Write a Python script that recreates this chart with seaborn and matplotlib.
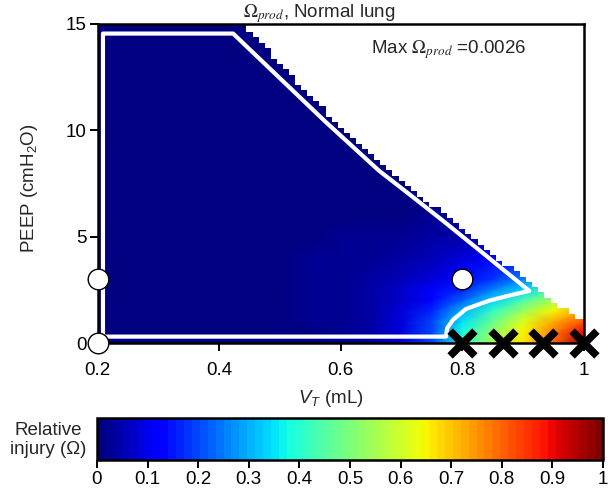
import numpy as np
import matplotlib
matplotlib.use("Agg")
import matplotlib.pyplot as plt
from matplotlib.colors import ListedColormap
import seaborn as sns

vt_grid = [0.2, 0.3, 0.4, 0.5, 0.55, 0.6, 0.65, 0.7, 0.75, 0.8, 0.85, 0.9, 0.95, 1.0]
peep_grid = [0, 0.5, 1, 1.5, 2, 2.5, 3, 4, 5, 6, 8, 10, 15]

# relative injury (one row per PEEP value, columns follow vt_grid)
injury = [
    [0, 0, 0.004, 0.008, 0.012, 0.016, 0.03, 0.09, 0.2, 0.4, 0.55, 0.66, 0.8, 1.0],
    [0, 0, 0.004, 0.009, 0.014, 0.019, 0.034, 0.09, 0.2, 0.38, 0.53, 0.65, 0.78, 0.9],
    [0, 0.001, 0.005, 0.011, 0.016, 0.022, 0.038, 0.09, 0.19, 0.35, 0.48, 0.61, 0.73, 0.82],
    [0, 0.001, 0.006, 0.012, 0.018, 0.025, 0.04, 0.085, 0.17, 0.3, 0.42, 0.54, 0.65, 0.74],
    [0, 0.001, 0.006, 0.013, 0.019, 0.026, 0.04, 0.075, 0.14, 0.23, 0.33, 0.45, 0.56, 0.65],
    [0, 0.001, 0.006, 0.014, 0.02, 0.027, 0.038, 0.065, 0.11, 0.17, 0.25, 0.34, 0.46, 0.55],
    [0, 0.001, 0.006, 0.014, 0.02, 0.026, 0.036, 0.055, 0.085, 0.125, 0.18, 0.26, 0.34, 0.42],
    [0, 0.001, 0.005, 0.012, 0.017, 0.022, 0.029, 0.04, 0.055, 0.08, 0.11, 0.15, 0.2, 0.25],
    [0, 0.001, 0.004, 0.008, 0.012, 0.016, 0.02, 0.026, 0.033, 0.042, 0.055, 0.07, 0.09, 0.11],
    [0, 0, 0.002, 0.005, 0.007, 0.009, 0.012, 0.015, 0.018, 0.022, 0.028, 0.034, 0.04, 0.045],
    [0, 0, 0, 0.001, 0.002, 0.003, 0.004, 0.005, 0.006, 0.008, 0.01, 0.012, 0.015, 0.018],
    [0, 0, 0, 0, 0, 0.001, 0.001, 0.002, 0.002, 0.003, 0.004, 0.005, 0.006, 0.007],
    [0, 0, 0, 0, 0, 0, 0, 0, 0, 0, 0, 0, 0, 0],
]

# upper limit of feasible VT at each PEEP (staircase edge)
peep_lim = [0, 1.0, 1.2, 1.7, 2.6, 4.2, 5.75, 6.9, 8.1, 10.4, 15]
vt_lim = [1.05, 1.0, 0.985, 0.96, 0.92, 0.85, 0.783, 0.732, 0.678, 0.59, 0.44]

# model grid step used for the staircase
vt_step = 0.01
peep_step = 0.25

# white outline of the protective region
safe_vt = [0.209, 0.773, 0.775, 0.785, 0.806, 0.845, 0.88, 0.91, 0.835, 0.768,
           0.717, 0.663, 0.575, 0.423, 0.209, 0.209]
safe_peep = [0.3, 0.3, 0.7, 1.1, 1.6, 2.0, 2.25, 2.45, 4.2, 5.75,
             6.9, 8.1, 10.4, 14.55, 14.55, 0.3]

# marked settings
circle_vt = [0.2, 0.2, 0.8]
circle_peep = [0, 3, 3]
cross_vt = [0.8, 0.867, 0.933, 1.0]
cross_peep = [0, 0, 0, 0]

x_ticks = [0.2, 0.4, 0.6, 0.8, 1.0]
x_ticklabels = ["0.2", "0.4", "0.6", "0.8", "1"]
y_ticks = [0, 5, 10, 15]
cb_ticks = [0, 0.1, 0.2, 0.3, 0.4, 0.5, 0.6, 0.7, 0.8, 0.9, 1.0]
cb_ticklabels = ["0", "0.1", "0.2", "0.3", "0.4", "0.5", "0.6", "0.7", "0.8", "0.9", "1"]

sns.set_theme(style="ticks")
plt.rcParams["font.family"] = ["Liberation Sans", "DejaVu Sans"]
plt.rcParams["mathtext.fontset"] = "custom"
plt.rcParams["mathtext.rm"] = "Liberation Sans"
plt.rcParams["mathtext.it"] = "Liberation Sans:italic"
plt.rcParams["mathtext.bf"] = "Liberation Sans:bold"
fs = 13.5

jet = matplotlib.colormaps["jet"].resampled(64)

fig = plt.figure(figsize=(6.12, 4.9), dpi=100)
ax = fig.add_axes([97.5 / 612, 1 - 343 / 490, 486.5 / 612, 319 / 490])
ax.set_facecolor(jet(0))

field = ax.pcolormesh(vt_grid, peep_grid, np.array(injury), shading="gouraud",
                      cmap=jet, vmin=0, vmax=1, antialiased=False, zorder=1)

# blank out the infeasible cells
vt_cells = np.arange(0.2, 1.0 + vt_step / 2, vt_step)
peep_cells = np.arange(0, 15 + peep_step / 2, peep_step)
edge = np.interp(peep_cells, peep_lim, vt_lim)
outside = vt_cells[None, :] > edge[:, None] + 1e-9
blank = np.ma.masked_where(~outside, np.ones(outside.shape))
ax.pcolormesh(vt_cells, peep_cells, blank, shading="nearest",
              cmap=ListedColormap(["white"]), edgecolors="none",
              antialiased=False, zorder=2)

sns.lineplot(x=safe_vt, y=safe_peep, sort=False, estimator=None, color="white",
             linewidth=3, ax=ax, zorder=3)

sns.scatterplot(x=circle_vt, y=circle_peep, s=220, color="white", edgecolor="black",
                linewidth=1, ax=ax, zorder=5, clip_on=False)
sns.scatterplot(x=cross_vt, y=cross_peep, marker="x", s=320, color="black",
                linewidth=5.5, ax=ax, zorder=5, clip_on=False)

ax.set_xlim(0.2, 1.0)
ax.set_ylim(0, 15)
ax.set_xticks(x_ticks)
ax.set_xticklabels(x_ticklabels)
ax.set_yticks(y_ticks)
ax.tick_params(direction="out", length=6, width=1.4, labelsize=fs, colors="black")
ax.tick_params(axis="x", pad=8)
ax.tick_params(axis="y", pad=2)
for side in ["left", "right", "top", "bottom"]:
    ax.spines[side].set_visible(True)
    ax.spines[side].set_linewidth(1.8)
    ax.spines[side].set_color("black")
    ax.spines[side].set_zorder(4)

ax.set_xlabel(r"$V_T$ (mL)", fontsize=fs, va="center")
ax.xaxis.set_label_coords((331 - 97.5) / 486.5, (343 - 398) / 319)
ax.set_ylabel(r"PEEP (cmH$_2$O)", fontsize=fs, va="center")
ax.yaxis.set_label_coords((30 - 97.5) / 486.5, (343 - 188) / 319)

ax.text((319 - 97.5) / 486.5, 1 + (24 - 17) / 319, r"$\Omega_{prod}$, Normal lung",
        transform=ax.transAxes, ha="center", va="baseline", fontsize=fs,
        math_fontfamily="stix")
ax.text(0.65, 13.8, r"Max $\Omega_{prod}$ =0.0026", ha="left", va="center",
        fontsize=fs, math_fontfamily="stix", zorder=6)

cax = fig.add_axes([97 / 612, 1 - 460 / 490, 506 / 612, 42 / 490])
cb = fig.colorbar(field, cax=cax, orientation="horizontal", ticks=cb_ticks)
cb.ax.set_xticklabels(cb_ticklabels)
cb.ax.tick_params(direction="out", length=6, width=1.4, labelsize=fs, pad=2, colors="black")
cb.outline.set_linewidth(1.8)
cb.outline.set_edgecolor("black")
fig.text(48 / 612, 1 - 440 / 490, "Relative\ninjury (Ω)", ha="center", va="center",
         fontsize=fs, linespacing=1.2)

fig.savefig("out.png", dpi=100)
